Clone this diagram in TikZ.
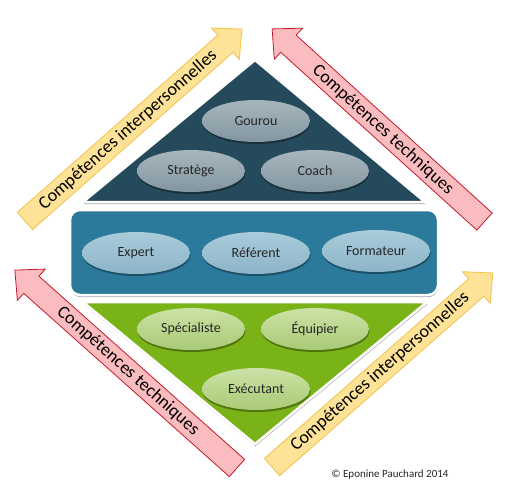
\documentclass[tikz,border=0pt]{standalone}
\usepackage{fontspec}
\setmainfont{Carlito}
\usetikzlibrary{shapes.geometric,shadows}
\definecolor{topc}{HTML}{244A5B}
\definecolor{midc}{HTML}{2B7A9C}
\definecolor{botc}{HTML}{7AB317}
\definecolor{topeT}{HTML}{A7B6BD}
\definecolor{topeB}{HTML}{8296A0}
\definecolor{mideT}{HTML}{AACCDB}
\definecolor{mideB}{HTML}{8CB4C7}
\definecolor{boteT}{HTML}{CBE2A6}
\definecolor{boteB}{HTML}{A9CA76}
\definecolor{yelF}{HTML}{FDE297}
\definecolor{yelD}{HTML}{F2C24A}
\definecolor{redF}{HTML}{FBBCC0}
\definecolor{redD}{HTML}{C41A2C}
\newcommand\bigarrowshape[4]{%
  \begin{scope}[shift={#1},rotate=#2]
    \draw[#4] (0,-11.5) -- ({#3-22},-11.5) -- ({#3-22},-21) -- (#3,0) -- ({#3-22},21) -- ({#3-22},11.5) -- (0,11.5) -- cycle;
  \end{scope}}
\begin{document}
\begin{tikzpicture}[x=1pt,y=-1pt,
  shad/.style={drop shadow={shadow xshift=0.5pt,shadow yshift=-2pt,opacity=.35,fill=black}},
  ell/.style={ellipse,minimum width=108pt,minimum height=42pt,inner sep=0pt,
    font=\fontsize{14}{16}\selectfont,text=black!85,shad},
  tell/.style={ell,top color=topeT,bottom color=topeB},
  mell/.style={ell,top color=mideT,bottom color=mideB},
  bell/.style={ell,top color=boteT,bottom color=boteB},
  yarrow/.style={fill=yelF,draw=yelD,line width=0.8pt,line join=miter},
  rarrow/.style={fill=redF,draw=redD,line width=0.8pt,line join=miter},
  atext/.style={font=\fontsize{18}{20}\selectfont,text=black,inner sep=0pt}]
\useasboundingbox (0,0) rectangle (510,499);
\fill[white] (0,0) rectangle (510,499);

% arrows
\bigarrowshape{(25,221)}{41.5}{289.6}{yarrow}
\bigarrowshape{(484.5,221.5)}{137.8}{286.7}{rarrow}
\bigarrowshape{(237,468)}{138.3}{297.5}{rarrow}
\bigarrowshape{(272,467)}{41.3}{294}{yarrow}
\node[atext,rotate=41.5] (t1) at (128,130) {Compétences interpersonnelles};
\node[atext,rotate=-42.2] (t2) at (383,130) {Compétences techniques};
\node[atext,rotate=-41.7] (t3) at (128,371) {Compétences techniques};
\node[atext,rotate=41.3] (t4) at (380,372) {Compétences interpersonnelles};

% shapes
\draw[fill=topc,draw=white,line width=2.5pt,line join=round,shad] (255,60) -- (425,202) -- (83,202) -- cycle;
\draw[fill=midc,draw=white,line width=2.5pt,rounded corners=10pt,shad] (70,210) rectangle (438,295);
\draw[fill=botc,draw=white,line width=2.5pt,line join=round,shad] (83,302) -- (427,302) -- (255,444) -- cycle;

% ellipses
\node[tell] (gourou) at (256,121) {Gourou};
\node[tell] (stratege) at (191,171) {Stratège};
\node[tell] (coach) at (315,171) {Coach};
\node[mell] (expert) at (136,253) {Expert};
\node[mell] (referent) at (256,253) {Référent};
\node[mell] (formateur) at (376,251) {Formateur};
\node[bell] (specialiste) at (191,329) {Spécialiste};
\node[bell] (equipier) at (315,329) {Équipier};
\node[bell] (executant) at (256,389) {Exécutant};

\node[font=\fontsize{11}{13}\selectfont,text=black!85,inner sep=0pt] (copy) at (390,475) {© Eponine Pauchard 2014};
\end{tikzpicture}
\end{document}
